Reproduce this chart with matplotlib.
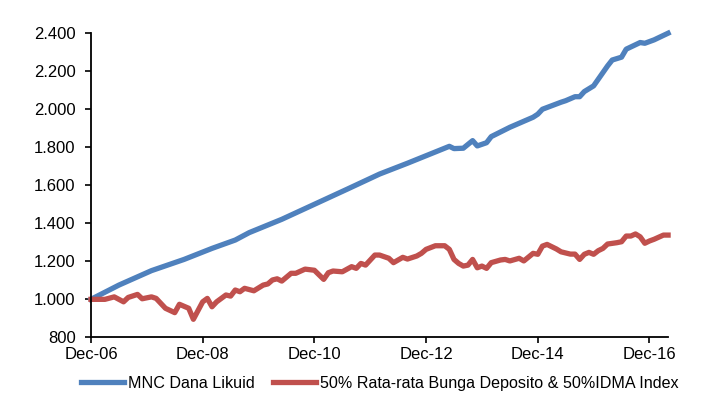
import matplotlib
matplotlib.use("Agg")
import matplotlib.pyplot as plt
from matplotlib.ticker import FuncFormatter

plt.rcParams['font.family'] = ['Liberation Sans', 'DejaVu Sans']

# bulan sejak Dec-06 dan nilai indeks (basis 1.000)
fund_months = [0, 6, 13, 20, 26, 31, 34, 41, 48, 55, 62, 68, 77, 78, 80, 82, 83,
               85, 86, 90, 95, 96, 97, 101, 102, 104, 105, 106, 108, 110, 111,
               112, 114, 115, 118, 119, 121, 124]
fund_values = [1000, 1075, 1151, 1210, 1268, 1312, 1351, 1421, 1500, 1579, 1659,
               1716, 1805, 1793, 1795, 1835, 1807, 1824, 1856, 1905, 1958, 1974,
               2000, 2037, 2045, 2066, 2066, 2093, 2123, 2193, 2228, 2259, 2274,
               2316, 2351, 2347, 2365, 2400]

bench_months = [0, 3, 5, 7, 8, 10, 11, 13, 14, 16, 18, 19, 21, 22, 24, 25, 26, 27,
                29, 30, 31, 32, 33, 35, 37, 38, 39, 40, 41, 43, 44, 46, 48, 50,
                51, 52, 54, 56, 57, 58, 59, 61, 62, 64, 65, 67, 68, 70, 71, 72,
                74, 76, 77, 78, 79, 80, 81, 82, 83, 84, 85, 86, 88, 89, 90, 92,
                93, 95, 96, 97, 98, 100, 101, 103, 104, 105, 106, 107, 108, 109,
                110, 111, 113, 114, 115, 116, 117, 118, 119, 120, 121, 123, 124]
bench_values = [1000, 1000, 1013, 987, 1010, 1026, 1003, 1013, 1005, 953, 930, 974,
                953, 895, 987, 1005, 961, 987, 1023, 1017, 1049, 1040, 1058, 1045,
                1075, 1081, 1102, 1108, 1096, 1137, 1137, 1159, 1153, 1105, 1140,
                1149, 1145, 1172, 1163, 1189, 1180, 1233, 1233, 1216, 1193, 1221,
                1212, 1228, 1242, 1263, 1282, 1282, 1263, 1210, 1189, 1175, 1180,
                1210, 1166, 1175, 1163, 1193, 1207, 1210, 1202, 1216, 1202, 1242,
                1237, 1280, 1289, 1265, 1250, 1238, 1238, 1210, 1237, 1247, 1237,
                1256, 1268, 1291, 1298, 1303, 1333, 1333, 1344, 1329, 1295, 1307,
                1316, 1338, 1338]

tick_months = [0, 24, 48, 72, 96, 120]
tick_labels = ['Dec-06', 'Dec-08', 'Dec-10', 'Dec-12', 'Dec-14', 'Dec-16']
y_ticks = [800, 1000, 1200, 1400, 1600, 1800, 2000, 2200, 2400]

fig = plt.figure(figsize=(7.13, 4.05), dpi=100)
ax = fig.add_axes([0.1276, 0.167, 0.937 - 0.1276, 0.918 - 0.167])

ax.plot(fund_months, fund_values, color='#4F81BD', lw=3.8,
        label='MNC Dana Likuid', solid_joinstyle='round', clip_on=False)
ax.plot(bench_months, bench_values, color='#C0504D', lw=3.8,
        label='50% Rata-rata Bunga Deposito & 50%IDMA Index',
        solid_joinstyle='round', clip_on=False)

ax.set_xlim(0, 124)
ax.set_ylim(800, 2400)
ax.set_xticks(tick_months)
ax.set_xticklabels(tick_labels)
ax.set_yticks(y_ticks)
ax.yaxis.set_major_formatter(FuncFormatter(lambda v, p: f"{v:,.0f}".replace(',', '.')))

for s in ['top', 'right']:
    ax.spines[s].set_visible(False)
for s in ['left', 'bottom']:
    ax.spines[s].set_linewidth(1.3)
ax.tick_params(direction='out', length=4, width=1.2, labelsize=12)
ax.tick_params(axis='y', pad=7)
ax.tick_params(axis='x', pad=3)

fig.legend(loc='center', bbox_to_anchor=(0.533, 0.054), ncol=2, frameon=False,
           fontsize=11.6, handlelength=2.7, handletextpad=0.25, columnspacing=1.1)

fig.savefig('out.png', dpi=100)
